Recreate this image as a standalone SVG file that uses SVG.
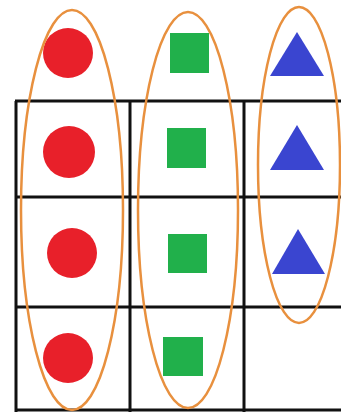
<svg xmlns="http://www.w3.org/2000/svg" width="341" height="412" viewBox="0 0 341 412">
<style>
.grid{stroke:#111;stroke-width:3;fill:none}
.c{fill:#e8202a}
.s{fill:#21b04b}
.t{fill:#3a45d0}
.e{fill:none;stroke:#e8903e;stroke-width:2.5}
</style>
<rect width="341" height="412" fill="#fff"/>
<g id="grid" class="grid">
<path d="M15 101H341M15 197H341M15 307H341M15 410H341M16 101V412M130 101V412M244 101V412"/>
</g>
<g id="circles">
<circle class="c" cx="68" cy="53" r="25"/>
<circle class="c" cx="69" cy="152" r="26"/>
<circle class="c" cx="72" cy="253" r="25"/>
<circle class="c" cx="68" cy="358" r="25"/>
</g>
<g id="squares">
<rect class="s" x="170" y="33" width="39" height="40"/>
<rect class="s" x="167" y="128" width="39" height="40"/>
<rect class="s" x="168" y="234" width="39" height="39"/>
<rect class="s" x="163" y="337" width="40" height="39"/>
</g>
<g id="triangles">
<polygon class="t" points="297,32 324,76 270,76"/>
<polygon class="t" points="297,125 324,170 270,170"/>
<polygon class="t" points="298,229 325,274 272,274"/>
</g>
<g id="ellipses">
<ellipse class="e" cx="72" cy="210" rx="51" ry="200"/>
<ellipse class="e" cx="188" cy="210" rx="50" ry="198"/>
<ellipse class="e" cx="299" cy="165" rx="41" ry="158"/>
</g>
</svg>
